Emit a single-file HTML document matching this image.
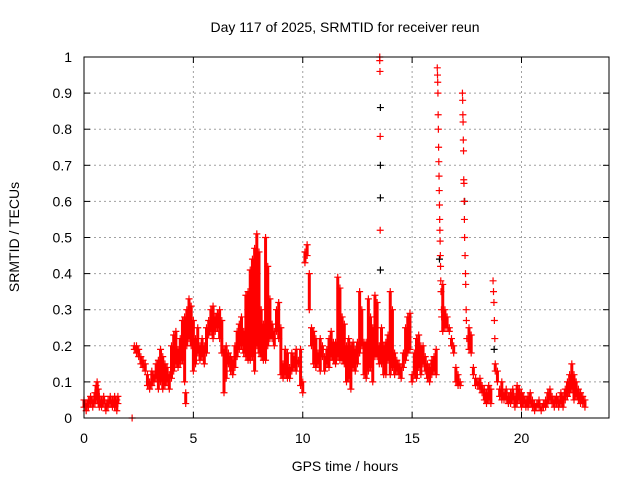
<!DOCTYPE html>
<html><head><meta charset="utf-8"><style>
body{margin:0;background:#fff}
svg{display:block;font-family:"Liberation Sans",sans-serif}
</style></head><body>
<svg id="chart" width="640" height="480" viewBox="0 0 640 480">
<text x="345" y="32" font-size="14" text-anchor="middle">Day 117 of 2025, SRMTID for receiver reun</text>
<text transform="translate(19,237) rotate(-90)" font-size="14" text-anchor="middle">SRMTID / TECUs</text>
<text x="345" y="471" font-size="14" text-anchor="middle">GPS time / hours</text>
<g id="grid"></g>
<g id="ticks"></g>
<g id="marks"></g>
<rect x="84" y="57" width="525" height="361" fill="none" stroke="#000" stroke-width="1"/>
</svg>
<script>
const xTicks=[0,5,10,15,20];
const yTicks=[0,0.1,0.2,0.3,0.4,0.5,0.6,0.7,0.8,0.9,1];
const yTickLabels=["0","0.1","0.2","0.3","0.4","0.5","0.6","0.7","0.8","0.9","1"];
const times=[0,0.1,0.2,0.3,0.4,0.5,0.55,0.6,0.65,0.7,0.8,0.9,1.0,1.1,1.2,1.3,1.4,1.5,1.55,
2.3,2.4,2.5,2.6,2.7,2.8,2.9,3.0,3.1,3.2,3.3,3.4,3.5,3.6,3.7,3.8,3.9,4.0,4.1,4.2,4.3,4.4,4.5,4.6,4.65,4.7,4.8,4.9,
5.0,5.1,5.2,5.3,5.4,5.5,5.6,5.7,5.8,5.9,6.0,6.1,6.2,6.3,6.4,6.5,6.6,6.7,6.8,6.9,7.0,7.1,7.2,7.3,7.4,7.5,7.6,7.7,7.8,7.9,
8.0,8.1,8.2,8.3,8.4,8.5,8.6,8.7,8.8,8.9,9.0,9.1,9.2,9.3,9.4,9.5,9.6,9.7,9.8,9.9,10.0,10.1,10.2,10.3,10.4,10.5,10.6,10.7,10.8,10.9,
11.0,11.1,11.2,11.3,11.4,11.5,11.6,11.7,11.8,11.9,12.0,12.1,12.2,12.3,12.4,12.5,12.6,12.7,12.8,12.9,13.0,13.1,13.2,13.3,13.4,13.5,
13.6,13.7,13.8,13.9,14.0,14.1,14.2,14.3,14.4,14.5,14.6,14.7,14.8,14.9,15.0,15.1,15.2,15.3,15.4,15.5,15.6,15.7,15.8,15.9,16.0,16.1,
16.4,16.5,16.6,16.7,16.8,16.9,17.0,17.1,17.2,17.6,17.7,17.8,17.9,18.0,18.1,18.2,18.3,18.4,18.5,18.6,18.8,18.9,
19.0,19.1,19.2,19.3,19.4,19.5,19.6,19.7,19.8,19.9,20.0,20.1,20.2,20.3,20.4,20.5,20.6,20.7,20.8,20.9,
21.0,21.1,21.2,21.3,21.4,21.5,21.6,21.7,21.8,21.9,22.0,22.1,22.2,22.3,22.4,22.5,22.6,22.7,22.8,22.9];
const hiVals=[.05,.04,.05,.06,.05,.07,.09,.1,.08,.06,.05,.06,.04,.05,.06,.05,.06,.05,.06,
.2,.2,.19,.17,.16,.15,.12,.1,.13,.12,.15,.16,.19,.17,.15,.14,.12,.2,.23,.24,.19,.22,.27,.28,.07,.3,.33,.31,
.27,.22,.25,.2,.22,.2,.25,.27,.3,.31,.28,.29,.3,.27,.19,.2,.18,.17,.16,.2,.24,.26,.28,.24,.34,.35,.41,.44,.47,.51,
.46,.3,.26,.5,.42,.33,.26,.24,.3,.32,.25,.15,.19,.18,.14,.18,.17,.19,.16,.19,.1,.46,.48,.4,.25,.24,.22,.18,.22,.2,
.17,.19,.22,.24,.21,.21,.39,.36,.28,.26,.2,.22,.2,.21,.19,.21,.35,.3,.21,.21,.33,.28,.25,.34,.32,.2,
.25,.2,.21,.23,.35,.3,.18,.16,.15,.14,.18,.25,.28,.29,.12,.18,.22,.23,.2,.2,.17,.15,.14,.16,.17,.19,
.37,.3,.28,.25,.22,.2,.14,.12,.1,.25,.23,.14,.11,.1,.11,.09,.08,.07,.09,.08,.15,.13,
.08,.1,.07,.08,.06,.07,.08,.06,.09,.08,.07,.06,.05,.06,.07,.05,.04,.04,.05,.03,
.04,.05,.07,.08,.06,.05,.06,.05,.07,.06,.08,.1,.12,.15,.12,.1,.08,.07,.06,.05];
const loVals=[.03,.02,.03,.04,.03,.04,.05,.06,.04,.03,.03,.04,.02,.03,.04,.03,.03,.02,.04,
.19,.18,.17,.15,.14,.13,.09,.08,.09,.1,.11,.08,.1,.08,.09,.1,.08,.11,.13,.15,.14,.15,.16,.1,.04,.2,.22,.2,
.13,.15,.18,.16,.17,.15,.18,.23,.24,.22,.24,.25,.22,.18,.07,.11,.15,.13,.12,.14,.17,.19,.2,.18,.17,.16,.16,.17,.13,.2,
.18,.17,.16,.16,.2,.22,.22,.2,.24,.22,.12,.11,.12,.11,.11,.13,.14,.13,.15,.09,.07,.43,.45,.3,.2,.15,.14,.15,.13,.17,
.13,.15,.14,.17,.16,.15,.17,.16,.16,.15,.1,.11,.08,.14,.13,.15,.18,.2,.12,.11,.13,.14,.1,.17,.17,.15,
.15,.12,.12,.16,.12,.14,.12,.13,.12,.11,.14,.16,.18,.19,.1,.12,.11,.14,.12,.15,.13,.11,.1,.12,.13,.12,
.24,.25,.25,.24,.2,.18,.1,.09,.09,.19,.18,.12,.09,.09,.08,.07,.05,.04,.05,.04,.13,.1,
.06,.05,.05,.05,.04,.04,.05,.03,.04,.05,.03,.04,.03,.03,.04,.03,.02,.03,.03,.02,
.03,.03,.04,.05,.04,.03,.04,.03,.04,.03,.05,.06,.07,.08,.05,.06,.05,.04,.04,.03];
const spikeTimes=[2.2,13.52,13.52,13.53,13.54,13.54,
16.15,16.16,16.17,16.18,16.19,16.2,16.21,16.22,16.23,16.24,16.25,16.26,16.27,16.28,16.29,16.3,16.31,16.32,16.34,16.35,
17.3,17.31,17.32,17.33,17.34,17.35,17.36,17.37,17.38,17.39,17.4,17.42,17.44,17.45,17.47,17.48,17.5,
18.7,18.72,18.74,18.76,18.78];
const spikeVals=[0,1.0,.99,.96,.78,.52,
.97,.95,.93,.9,.84,.8,.75,.71,.67,.63,.59,.55,.52,.49,.45,.42,.38,.35,.3,.28,
.9,.88,.84,.82,.77,.74,.66,.65,.6,.55,.5,.45,.4,.37,.3,.27,.22,
.38,.35,.32,.27,.22];
const blackTimes=[13.55,13.55,13.55,13.55,16.25,17.4,18.75];
const blackVals=[.86,.7,.61,.41,.44,.6,.19];

const X0=84,X1=609,Y0=418,Y1=57;
const xs=t=>X0+(t/24)*(X1-X0);
const ys=v=>Y0-v*(Y0-Y1);
const NS="http://www.w3.org/2000/svg";
function mk(tag,attrs,parent){const e=document.createElementNS(NS,tag);for(const k in attrs)e.setAttribute(k,attrs[k]);parent.appendChild(e);return e;}
const grid=document.getElementById('grid'),ticks=document.getElementById('ticks'),marks=document.getElementById('marks');
yTicks.forEach((v,i)=>{
  const y=ys(v);
  if(i>0&&i<yTicks.length-1){const g=mk('line',{x1:X0,x2:X1,y1:y,y2:y,stroke:'#a0a0a0','stroke-dasharray':'2,3'},grid);
  
  }
  mk('line',{x1:X0,x2:X0+6,y1:y,y2:y,stroke:'#000'},ticks);
  mk('line',{x1:X1,x2:X1-6,y1:y,y2:y,stroke:'#000'},ticks);
  const t=mk('text',{x:72,y:y+5,'font-size':14,'text-anchor':'end'},ticks);
  t.textContent=yTickLabels[i];
  
  
});
xTicks.forEach(v=>{
  const x=xs(v);
  if(v>0){const g=mk('line',{x1:x,x2:x,y1:Y0,y2:Y1,stroke:'#a0a0a0','stroke-dasharray':'2,3'},grid);
  
  }
  mk('line',{x1:x,x2:x,y1:Y0,y2:Y0-6,stroke:'#000'},ticks);
  mk('line',{x1:x,x2:x,y1:Y1,y2:Y1+6,stroke:'#000'},ticks);
  const t=mk('text',{x:x,y:443,'font-size':14,'text-anchor':'middle'},ticks);
  t.textContent=String(v);
  
  
});
function cross(t,v,col){
  const x=xs(t),y=ys(v);
  const p=mk('path',{d:`M${x-3.5},${y}H${x+3.5}M${x},${y-3.5}V${y+3.5}`,stroke:col,'stroke-width':1.2,fill:'none'},marks);
  
  
}
times.forEach((t,i)=>{
  const x=xs(t);
  const r=mk('line',{x1:x,x2:x,y1:ys(loVals[i]),y2:ys(hiVals[i]),stroke:'#f00','stroke-width':3},marks);
  
  
  cross(t,hiVals[i],'#f00');
  cross(t,loVals[i],'#f00');
});
blackTimes.forEach((t,i)=>cross(t,blackVals[i],'#000'));
spikeTimes.forEach((t,i)=>cross(t,spikeVals[i],'#f00'));
</script>
</body></html>
